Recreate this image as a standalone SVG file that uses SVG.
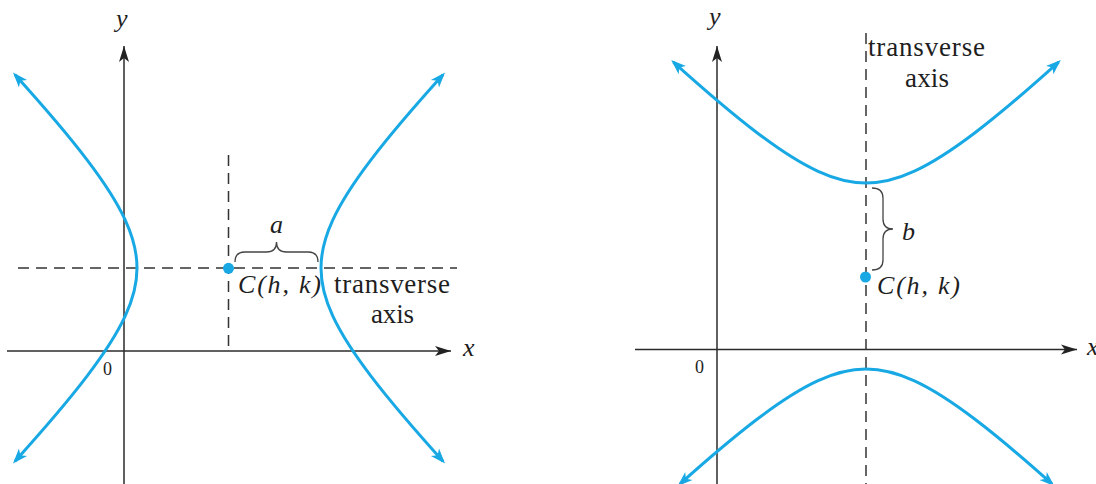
<svg xmlns="http://www.w3.org/2000/svg" width="1096" height="484" viewBox="0 0 1096 484">
<style>
.axis{stroke:#2b2b2b;stroke-width:1.5;fill:none}
.dash{stroke:#333;stroke-width:1.5;fill:none;stroke-dasharray:11 7}
.curve{stroke:#18a9e5;stroke-width:3;fill:none;marker-start:url(#blueArrow);marker-end:url(#blueArrow)}
.brace{stroke:#444;stroke-width:1.3;fill:none}
.dot{fill:#18a9e5}
.it{font-family:'Liberation Serif','DejaVu Serif',serif;font-style:italic;fill:#1e1e1e}
.rm{font-family:'Liberation Serif','DejaVu Serif',serif;fill:#1e1e1e}
</style>
<defs>
<marker id="blueArrow" viewBox="-18 -8 24 16" refX="-3" refY="0" markerWidth="24" markerHeight="16" markerUnits="userSpaceOnUse" orient="auto-start-reverse">
<path d="M0 0 L-15 -5.5 L-11 0 L-15 5.5 Z" fill="#18a9e5"/>
</marker>
<marker id="blackArrow" viewBox="-18 -8 24 16" refX="0" refY="0" markerWidth="24" markerHeight="16" markerUnits="userSpaceOnUse" orient="auto">
<path d="M0 0 L-16 -5 L-12 0 L-16 5 Z" fill="#222"/>
</marker>
</defs>

<g id="left-diagram">
<g id="left-axes">
<line class="axis" x1="124" y1="484" x2="124" y2="46" marker-end="url(#blackArrow)"/>
<line class="axis" x1="7" y1="351" x2="451" y2="351" marker-end="url(#blackArrow)"/>
</g>
<g id="left-guides">
<line class="dash" x1="228.5" y1="155" x2="228.5" y2="351"/>
<line class="dash" x1="18" y1="268" x2="457" y2="268"/>
</g>
<g id="left-curves">
<path class="curve" d="M 442.99 461.2 C 411.59 426.43, 388.53 399.19, 370.96 376.12 C 352.94 352.46, 340.73 333.23, 332.74 315.94 C 324.75 298.65, 321 283.33, 321 268 C 321 252.67, 324.75 237.35, 332.74 220.06 C 340.73 202.77, 352.94 183.54, 370.96 159.88 C 388.53 136.81, 411.59 109.57, 442.99 74.8"/>
<path class="curve" d="M 15.01 461.2 C 46.41 426.43, 69.47 399.19, 87.04 376.12 C 105.06 352.46, 117.27 333.23, 125.26 315.94 C 133.25 298.65, 137 283.33, 137 268 C 137 252.67, 133.25 237.35, 125.26 220.06 C 117.27 202.77, 105.06 183.54, 87.04 159.88 C 69.47 136.81, 46.41 109.57, 15.01 74.8"/>
</g>
<g id="left-center">
<circle class="dot" cx="228.5" cy="268.3" r="5.5"/>
<path class="brace" d="M 235 262 Q 235 252 245 252 L 266.5 252 Q 276.5 252 276.5 242 Q 276.5 252 286.5 252 L 308 252 Q 318 252 318 262"/>
<text class="it" x="270" y="233" font-size="26">a</text>
<text class="it" x="238" y="293" font-size="26" textLength="83" lengthAdjust="spacing">C(h, k)</text>
</g>
<g id="left-labels">
<text class="rm" x="334" y="292.5" font-size="27" textLength="116" lengthAdjust="spacing">transverse</text>
<text class="rm" x="371" y="322.5" font-size="27" textLength="43" lengthAdjust="spacing">axis</text>
<text class="it" x="116" y="27" font-size="26">y</text>
<text class="it" x="463" y="356" font-size="26">x</text>
<text class="rm" x="103" y="375" font-size="18">0</text>
</g>
</g>

<g id="right-diagram">
<g id="right-axes">
<line class="axis" x1="717" y1="484" x2="717" y2="46" marker-end="url(#blackArrow)"/>
<line class="axis" x1="635" y1="349.5" x2="1077" y2="349.5" marker-end="url(#blackArrow)"/>
</g>
<g id="right-guides">
<line class="dash" x1="866" y1="33" x2="866" y2="484"/>
</g>
<g id="right-curves">
<path class="curve" d="M 673.40 62.12 C 707.26 92.61, 733.99 115.19, 756.71 132.49 C 780.63 150.71, 800.06 163.05, 817.54 171.13 C 835.02 179.21, 850.5 183, 866 183 C 881.5 183, 896.98 179.21, 914.46 171.13 C 931.94 163.05, 951.37 150.71, 975.29 132.49 C 998.01 115.19, 1024.74 92.61, 1058.60 62.12"/>
<path class="curve" d="M 679.94 484 C 710.70 456.48, 735.48 435.67, 756.71 419.51 C 780.63 401.29, 800.06 388.95, 817.54 380.87 C 835.02 372.79, 850.5 369, 866 369 C 881.5 369, 896.98 372.79, 914.46 380.87 C 931.94 388.95, 951.37 401.29, 975.29 419.51 C 996.52 435.67, 1021.30 456.48, 1052.06 484"/>
</g>
<g id="right-center">
<circle class="dot" cx="865.5" cy="277" r="5.5"/>
<path class="brace" d="M 872 188 Q 883 188 883 198 L 883 219 Q 883 229 893 229 Q 883 229 883 239 L 883 260 Q 883 270 872 270"/>
<text class="it" x="902" y="240" font-size="26">b</text>
<text class="it" x="877" y="293.5" font-size="26" textLength="83" lengthAdjust="spacing">C(h, k)</text>
</g>
<g id="right-labels">
<text class="rm" x="868" y="56" font-size="27" textLength="117" lengthAdjust="spacing">transverse</text>
<text class="rm" x="905" y="87" font-size="27" textLength="44" lengthAdjust="spacing">axis</text>
<text class="it" x="709" y="25" font-size="26">y</text>
<text class="it" x="1087" y="355" font-size="26">x</text>
<text class="rm" x="695" y="373" font-size="18">0</text>
</g>
</g>
</svg>
